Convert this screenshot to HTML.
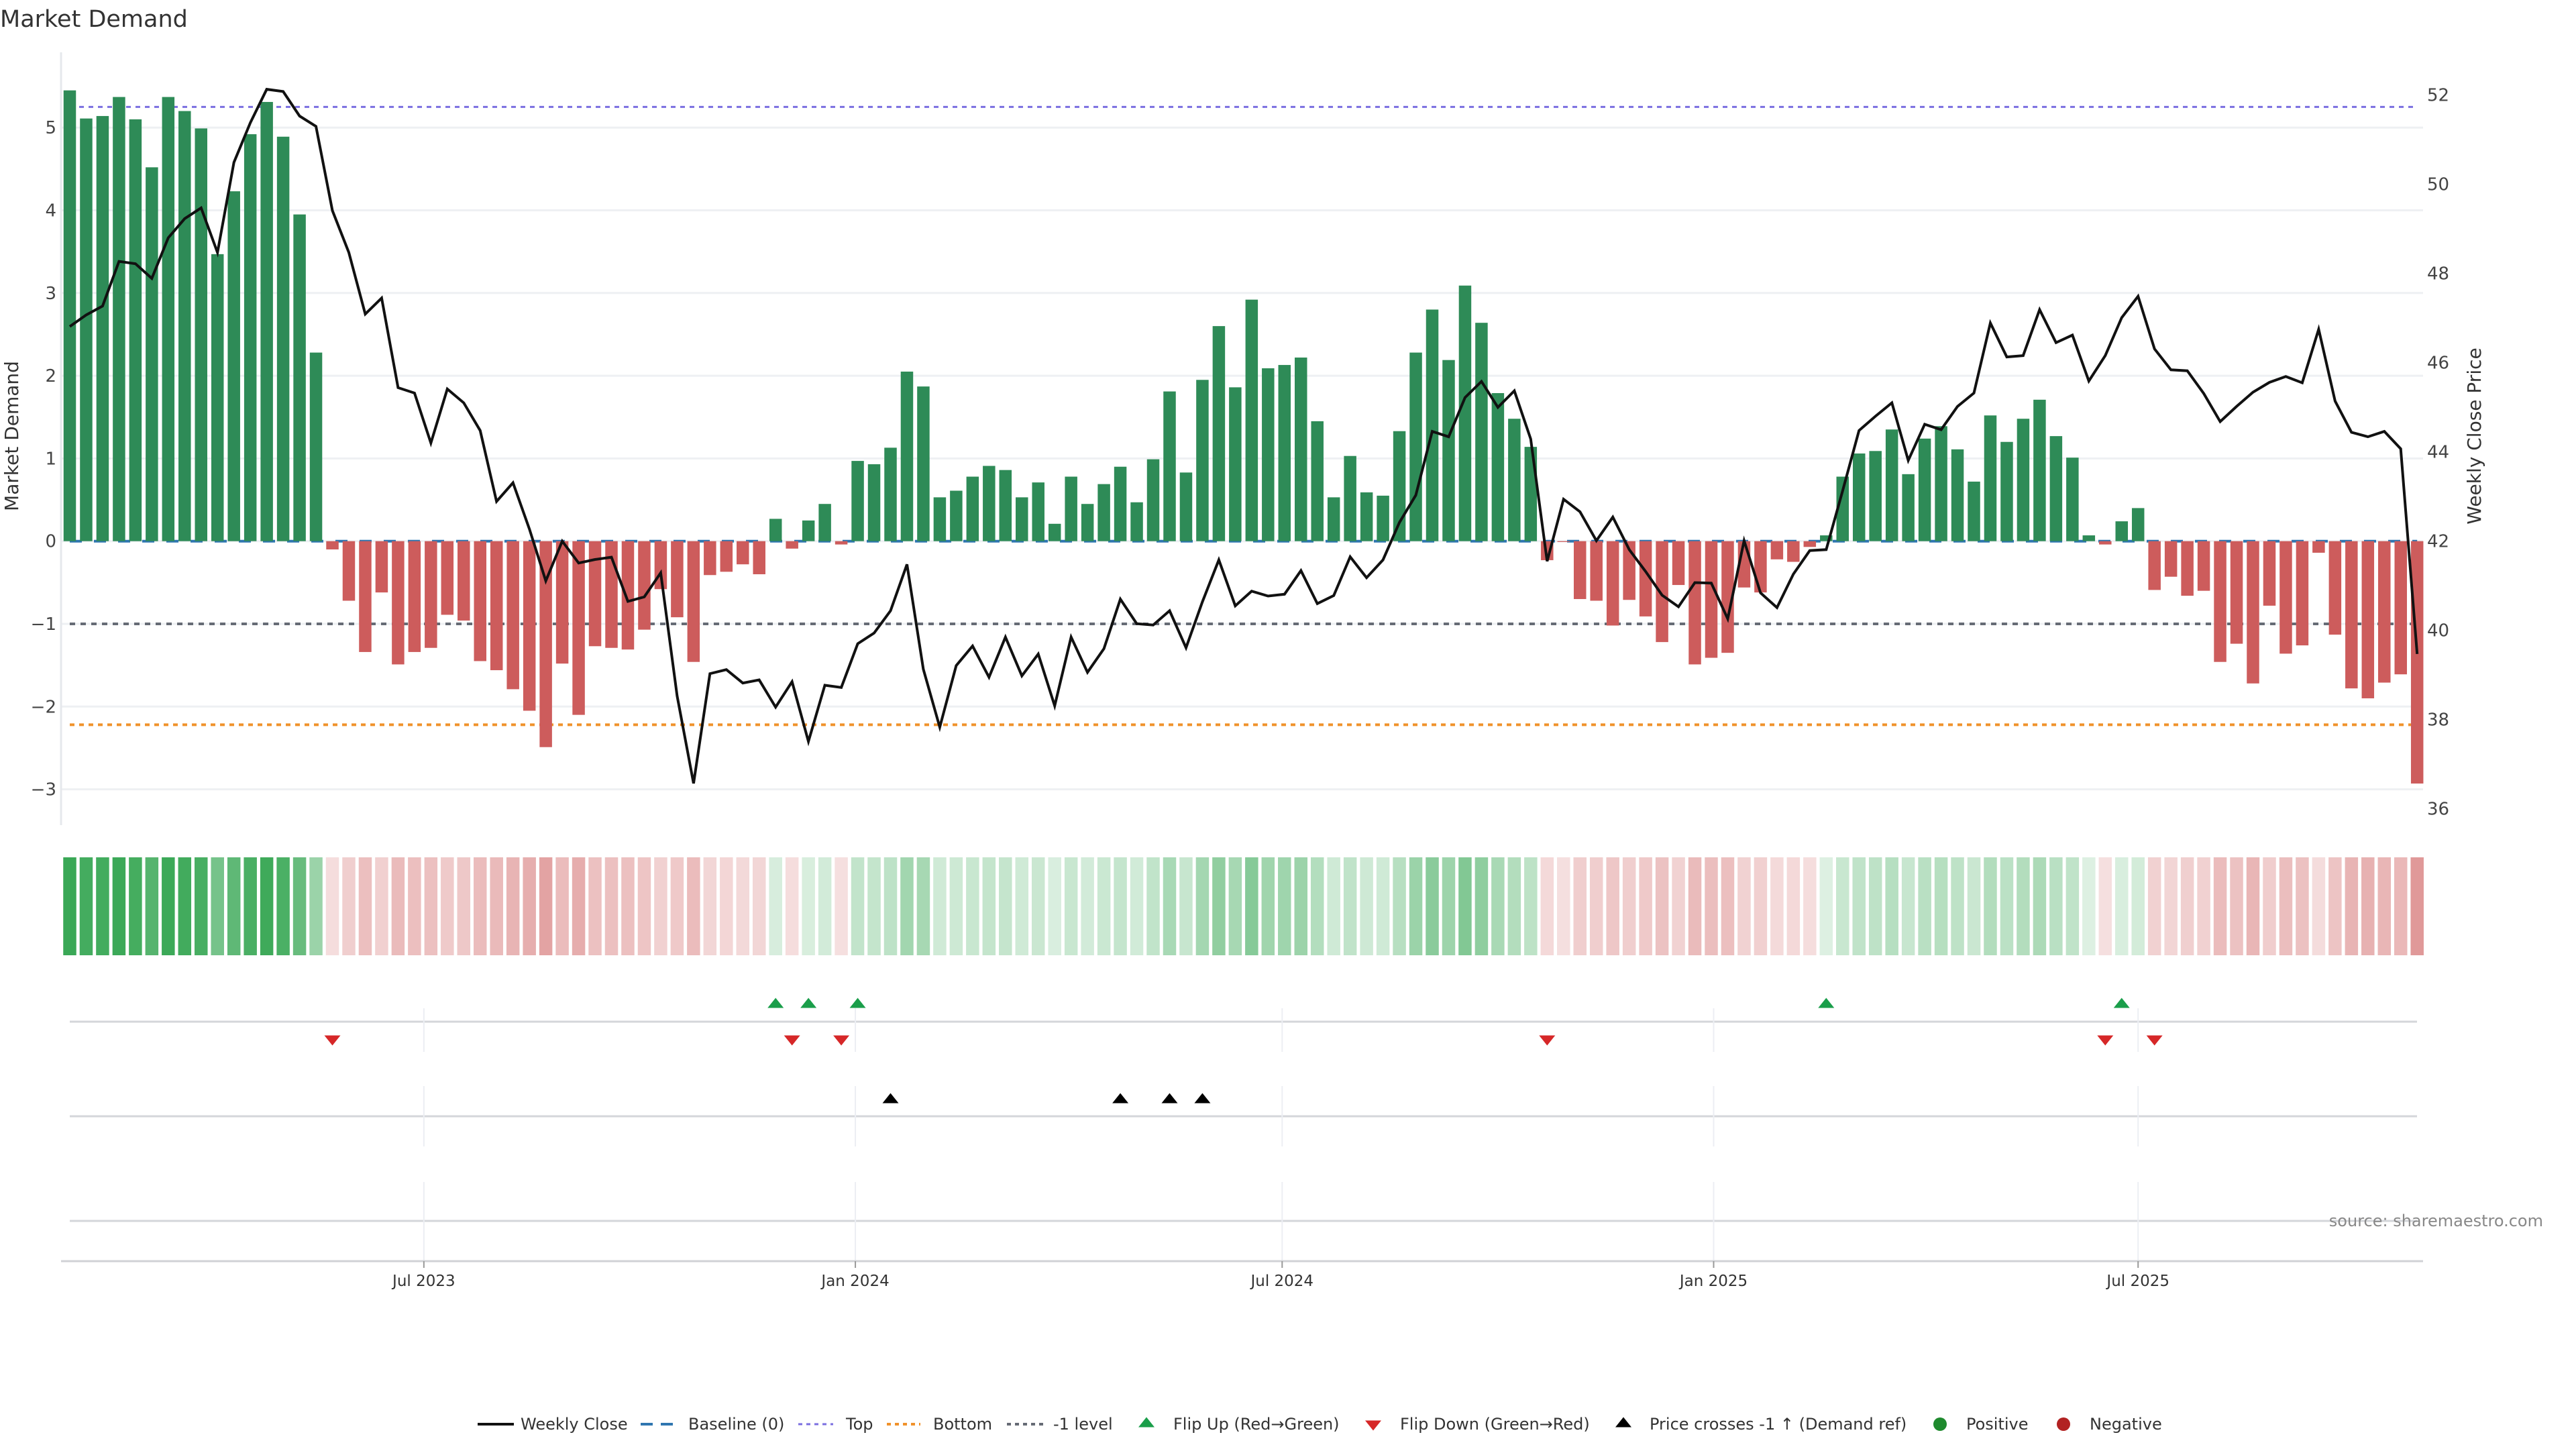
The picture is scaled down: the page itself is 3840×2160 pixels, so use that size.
<!DOCTYPE html>
<html><head><meta charset="utf-8"><style>
html,body{margin:0;padding:0;background:#fff;}
svg{display:block;font-family:"DejaVu Sans","Liberation Sans",sans-serif;}
</style></head><body>
<svg id="chart" width="3840" height="2160" viewBox="0 0 3840 2160" xmlns="http://www.w3.org/2000/svg">
<rect width="3840" height="2160" fill="#fff"/>
<text x="0" y="40" font-size="35" fill="#333">Market Demand</text>
<g id="grid"></g><g id="refs"></g><g id="bars"></g><g id="line"></g><g id="heat"></g><g id="panels"></g><g id="axes"></g>
<text transform="translate(27,650) rotate(-90)" text-anchor="middle" font-size="28" fill="#333">Market Demand</text>
<text transform="translate(3698,650) rotate(-90)" text-anchor="middle" font-size="28" fill="#333">Weekly Close Price</text>
<text x="3791" y="1828" text-anchor="end" font-size="24" fill="#888">source: sharemaestro.com</text>
<g id="legend"></g>
</svg>
<script>
const startDate = "2023-01-31";
const demand = [5.45,5.11,5.14,5.37,5.10,4.52,5.37,5.20,4.99,3.47,4.23,4.92,5.31,4.89,3.95,2.28,
-0.10,-0.72,-1.34,-0.62,-1.49,-1.34,-1.29,-0.89,-0.96,-1.45,-1.56,-1.79,-2.05,-2.49,-1.48,-2.10,-1.27,-1.29,-1.31,-1.07,-0.58,-0.92,-1.46,-0.41,-0.37,-0.28,-0.40,
0.27,-0.09,0.25,0.45,-0.04,
0.97,0.93,1.13,2.05,1.87,0.53,0.61,0.78,0.91,0.86,0.53,0.71,0.21,0.78,0.45,0.69,0.90,0.47,0.99,1.81,0.83,1.95,2.60,1.86,2.92,2.09,2.13,2.22,1.45,0.53,1.03,0.59,0.55,1.33,2.28,2.80,2.19,3.09,2.64,1.79,1.48,1.14,
-0.23,-0.01,-0.70,-0.72,-1.02,-0.71,-0.91,-1.22,-0.53,-1.49,-1.41,-1.35,-0.56,-0.62,-0.22,-0.25,-0.07,
0.07,0.78,1.06,1.09,1.35,0.81,1.24,1.39,1.11,0.72,1.52,1.20,1.48,1.71,1.27,1.01,0.07,-0.04,0.24,0.40,-0.59,-0.43,-0.66,-0.60,-1.46,-1.24,-1.72,-0.78,-1.36,-1.26,-0.14,-1.13,-1.78,-1.90,-1.71,-1.61,-2.93];
const price = [46.81,47.07,47.27,48.27,48.22,47.89,48.80,49.23,49.47,48.47,50.49,51.38,52.13,52.08,51.53,51.30,49.41,48.47,47.09,47.45,45.44,45.32,44.20,45.41,45.10,44.48,42.89,43.31,42.27,41.11,42.00,41.51,41.59,41.64,40.65,40.75,41.29,38.53,36.57,39.03,39.12,38.82,38.89,38.28,38.85,37.51,38.77,38.72,39.70,39.94,
40.44,41.48,39.13,37.83,39.21,39.65,38.95,39.85,38.98,39.47,38.31,39.85,39.06,39.59,40.70,40.15,40.12,40.44,39.61,40.64,41.58,40.55,40.88,40.77,40.81,41.34,40.60,40.78,41.65,41.18,41.58,42.42,43.03,44.46,44.34,45.22,45.58,45.00,45.37,44.29,
41.55,42.94,42.66,42.01,42.54,41.81,41.32,40.79,40.53,41.07,41.06,40.26,42.01,40.84,40.51,41.26,41.79,41.81,
43.13,44.48,44.80,45.10,43.81,44.62,44.50,45.02,45.32,46.89,46.13,46.16,47.19,46.45,46.62,45.59,46.16,47.01,47.49,46.31,45.84,45.82,45.31,44.68,45.02,45.34,45.56,45.69,45.55,46.75,45.14,44.44,44.34,44.46,44.07,39.47];
const crossIdx = [50,64,67,69];
const demandTicks = [-3,-2,-1,0,1,2,3,4,5];
const priceTicks = [36,38,40,42,44,46,48,50,52];
const dateTicks = ["2023-07-01","2024-01-01","2024-07-01","2025-01-01","2025-07-01"];
const dateTickLabels = ["Jul 2023","Jan 2024","Jul 2024","Jan 2025","Jul 2025"];
const refTop = 5.25, refBottom = -2.22, refLevel = -1;

const NS = "http://www.w3.org/2000/svg";
const X0 = 104, STEP = 24.47, BW = 18.5;
const t0 = Date.parse(startDate);
function xIdx(i){ return X0 + i*STEP; }
function xDate(s){ return X0 + (Date.parse(s)-t0)/86400000/7*STEP; }
function yD(v){ return 806.7 - v*123.3; }
function yP(p){ return 806.7 - (p-42)*66.5; }
function mk(tag, attrs, parent){ const e=document.createElementNS(NS,tag); for(const k in attrs) e.setAttribute(k,attrs[k]); document.getElementById(parent).appendChild(e); return e; }
const xL = X0, xR = xIdx(demand.length-1);

demandTicks.forEach(v=>{
  const g = mk('line',{x1:91,x2:3612,y1:yD(v),y2:yD(v),stroke:'#eef0f3','stroke-width':3},'grid');
  
  
  const t = mk('text',{x:84,y:yD(v)+9,'text-anchor':'end','font-size':26,fill:'#444'},'axes');
  t.textContent = v<0 ? '\u2212'+Math.abs(v) : String(v);
  
  
});
priceTicks.forEach(p=>{
  const t = mk('text',{x:3618,y:yP(p)+9,'font-size':26,fill:'#444'},'axes');
  t.textContent = String(p);
  
  
});
const ax = mk('line',{x1:91,x2:91,y1:78,y2:1230,stroke:'#e6e8ec','stroke-width':3},'axes');



function ref(v,color,dash,name,w){
  const l = mk('line',{x1:xL,x2:xR,y1:yD(v),y2:yD(v),stroke:color,'stroke-width':w||3,'stroke-dasharray':dash},'refs');
  
  
}
ref(refTop,'#7b6fe0','7 7','top-line');
ref(refBottom,'#f0922b','7 7','bottom-line',4);
ref(refLevel,'#666b75','8 8','minus-one-level-line',4);

demand.forEach((v,i)=>{
  const y = Math.min(yD(v), yD(0)), h = Math.abs(yD(v)-yD(0));
  const r = mk('rect',{x:xIdx(i)-BW/2,y:y,width:BW,height:Math.max(h,0.5),fill:v>=0?'#2e8b57':'#cd5c5c'},'bars');
  
  
});
ref(0,'#2f76b0','18 18','baseline',4);

const pts = price.map((p,i)=>xIdx(i).toFixed(1)+','+yP(p).toFixed(1)).join(' ');
const pl = mk('polyline',{points:pts,fill:'none',stroke:'#111','stroke-width':4,'stroke-linejoin':'miter'},'line');



const maxAbs = Math.max(...demand.map(Math.abs));
demand.forEach((v,i)=>{
  const a = 0.16 + 0.84*Math.abs(v)/maxAbs;
  const col = v>=0 ? 'rgba(58,168,86,'+a.toFixed(3)+')' : 'rgba(205,90,90,'+Math.min(1,a*0.95+0.04).toFixed(3)+')';
  const r = mk('rect',{x:xIdx(i)-BW/2-0.5,y:1278,width:BW+1,height:146,fill:col},'heat');
  
  
});

[[1523,1503,1568],[1664,1619,1709],[1820,1762,1880]].forEach(pp=>{
  const l = mk('line',{x1:104,x2:3603,y1:pp[0],y2:pp[0],stroke:'#d4d6da','stroke-width':3},'panels');
  
  
  dateTicks.forEach(d=>{
    const g = mk('line',{x1:xDate(d),x2:xDate(d),y1:pp[1],y2:pp[2],stroke:'#eceef3','stroke-width':2},'panels');
    
    
  });
});
const xa = mk('line',{x1:91,x2:3612,y1:1880,y2:1880,stroke:'#d0d2d6','stroke-width':3},'panels');


dateTicks.forEach((d,k)=>{
  const tk = mk('line',{x1:xDate(d),x2:xDate(d),y1:1880,y2:1890,stroke:'#999','stroke-width':2},'panels');
  
  
  const t = mk('text',{x:xDate(d),y:1917,'text-anchor':'middle','font-size':23,fill:'#333'},'panels');
  t.textContent = dateTickLabels[k];
  
  
});
function tri(cx,cy,up,color,name,parent){
  const s=12, h=15;
  const p = up ? [cx-s,cy+h/2, cx+s,cy+h/2, cx,cy-h/2] : [cx-s,cy-h/2, cx+s,cy-h/2, cx,cy+h/2];
  const e = mk('polygon',{points:p.join(','),fill:color},parent);
  
  
}
for(let i=1;i<demand.length;i++){
  if(demand[i]>=0 && demand[i-1]<0) tri(xIdx(i),1495,true,'#1a9e4a','flip-up-marker','panels');
  if(demand[i]<0 && demand[i-1]>=0) tri(xIdx(i),1551,false,'#d62728','flip-down-marker','panels');
}
crossIdx.forEach(i=>tri(xIdx(i),1637,true,'#000','price-cross-marker','panels'));

const LY = 2123;
function ltext(x,s,name){
  const t = mk('text',{x:x,y:LY+8,'font-size':24,fill:'#333'},'legend');
  t.textContent = s;
  
  
}
function lline(x1,x2,color,dash,w){
  const l = mk('line',{x1:x1,x2:x2,y1:LY,y2:LY,stroke:color,'stroke-width':w,'stroke-dasharray':dash},'legend');
  
  
}
lline(712,766,'#111','none',4); ltext(776,'Weekly Close','legend-weekly-close');
lline(955,1007,'#2f76b0','18 12',4); ltext(1026,'Baseline (0)','legend-baseline');
lline(1190,1242,'#7b6fe0','6 6',3); ltext(1261,'Top','legend-top');
lline(1322,1372,'#f0922b','6 6',4); ltext(1391,'Bottom','legend-bottom');
lline(1501,1555,'#666b75','6 6',4); ltext(1570,'-1 level','legend-minus-one');
tri(1709,LY-3,true,'#1a9e4a','legend-flip-up-swatch','legend'); ltext(1749,'Flip Up (Red\u2192Green)','legend-flip-up');
tri(2047,LY+2,false,'#d62728','legend-flip-down-swatch','legend'); ltext(2087,'Flip Down (Green\u2192Red)','legend-flip-down');
tri(2420,LY-3,true,'#000','legend-cross-swatch','legend'); ltext(2459,'Price crosses -1 \u2191 (Demand ref)','legend-price-cross');
const c1 = mk('circle',{cx:2892,cy:LY,r:10,fill:'#1e8a2e'},'legend');


ltext(2931,'Positive','legend-positive');
const c2 = mk('circle',{cx:3076,cy:LY,r:10,fill:'#b22222'},'legend');


ltext(3115,'Negative','legend-negative');
</script>
</body></html>
